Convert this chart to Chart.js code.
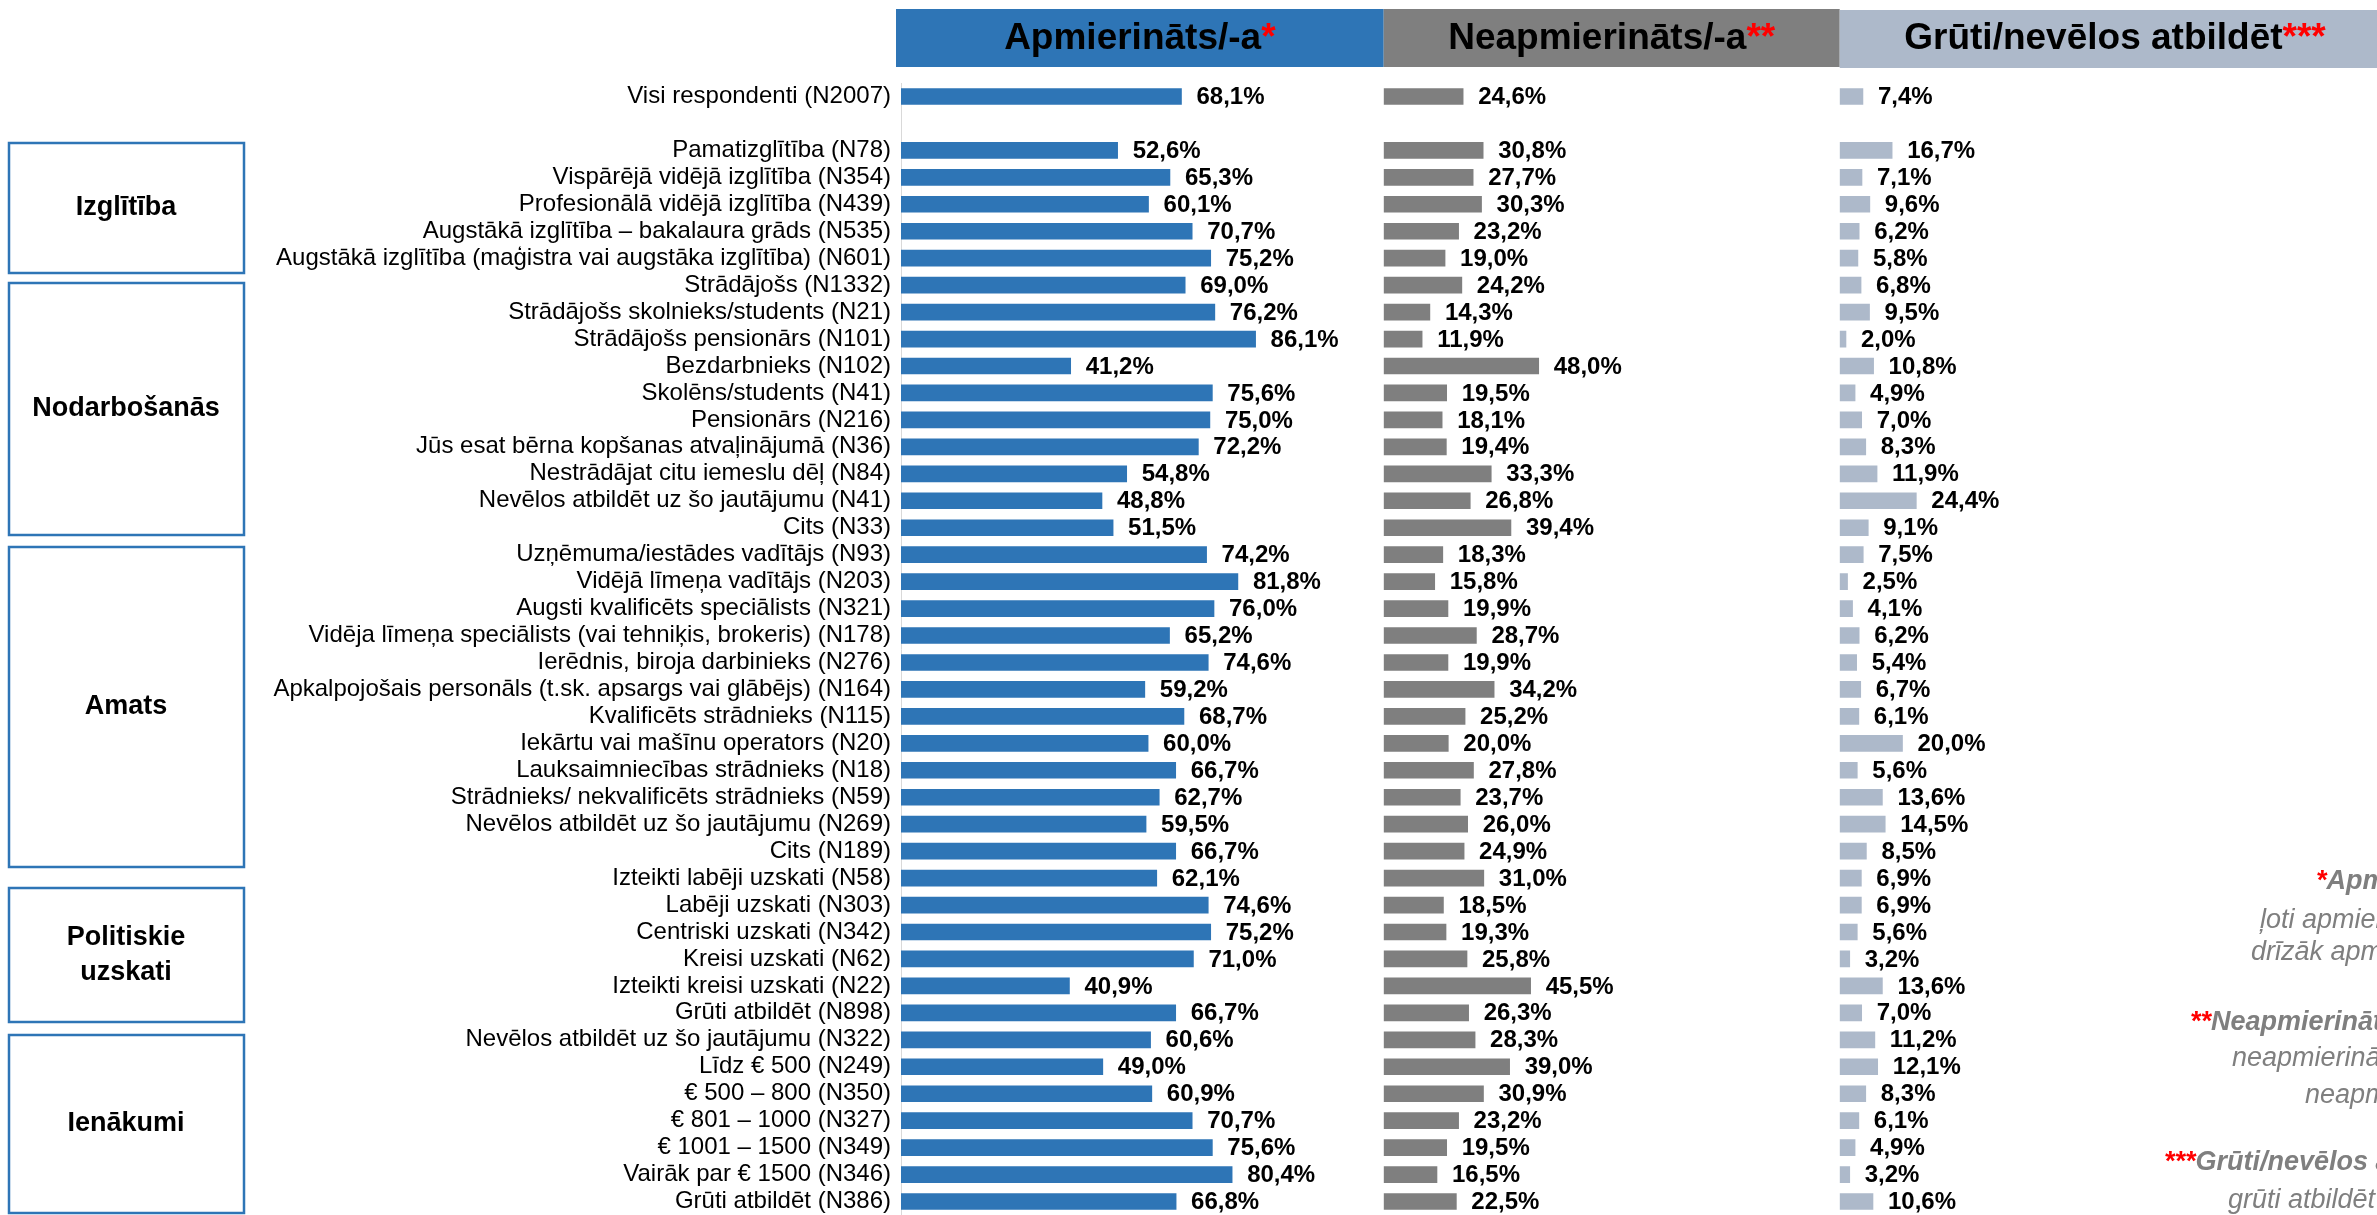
<!DOCTYPE html>
<html>
<head>
<meta charset="utf-8">
<script src="https://cdn.jsdelivr.net/npm/chart.js@4.4.0/dist/chart.umd.min.js"></script>
<style>
    html, body { margin: 0; padding: 0; background: #fff; }
    canvas { display: block; }
</style>
</head>
<body>
<canvas id="satisfactionChart" width="2377" height="1215"></canvas>
<script>
// Row labels (empty string = spacer row after the total)
const categories = [
    'Visi respondenti (N2007)', '',
    'Pamatizglītība (N78)',
    'Vispārējā vidējā izglītība (N354)',
    'Profesionālā vidējā izglītība (N439)',
    'Augstākā izglītība – bakalaura grāds (N535)',
    'Augstākā izglītība (maģistra vai augstāka izglītība) (N601)',
    'Strādājošs (N1332)',
    'Strādājošs skolnieks/students (N21)',
    'Strādājošs pensionārs (N101)',
    'Bezdarbnieks (N102)',
    'Skolēns/students (N41)',
    'Pensionārs (N216)',
    'Jūs esat bērna kopšanas atvaļinājumā (N36)',
    'Nestrādājat citu iemeslu dēļ (N84)',
    'Nevēlos atbildēt uz šo jautājumu (N41)',
    'Cits (N33)',
    'Uzņēmuma/iestādes vadītājs (N93)',
    'Vidējā līmeņa vadītājs (N203)',
    'Augsti kvalificēts speciālists (N321)',
    'Vidēja līmeņa speciālists (vai tehniķis, brokeris) (N178)',
    'Ierēdnis, biroja darbinieks (N276)',
    'Apkalpojošais personāls (t.sk. apsargs vai glābējs) (N164)',
    'Kvalificēts strādnieks (N115)',
    'Iekārtu vai mašīnu operators (N20)',
    'Lauksaimniecības strādnieks (N18)',
    'Strādnieks/ nekvalificēts strādnieks (N59)',
    'Nevēlos atbildēt uz šo jautājumu (N269)',
    'Cits (N189)',
    'Izteikti labēji uzskati (N58)',
    'Labēji uzskati (N303)',
    'Centriski uzskati (N342)',
    'Kreisi uzskati (N62)',
    'Izteikti kreisi uzskati (N22)',
    'Grūti atbildēt (N898)',
    'Nevēlos atbildēt uz šo jautājumu (N322)',
    'Līdz € 500 (N249)',
    '€ 500 – 800 (N350)',
    '€ 801 – 1000 (N327)',
    '€ 1001 – 1500 (N349)',
    'Vairāk par € 1500 (N346)',
    'Grūti atbildēt (N386)'
];

const satisfied = [68.1, null,
    52.6, 65.3, 60.1, 70.7, 75.2,
    69.0, 76.2, 86.1, 41.2, 75.6, 75.0, 72.2, 54.8, 48.8, 51.5,
    74.2, 81.8, 76.0, 65.2, 74.6, 59.2, 68.7, 60.0, 66.7, 62.7, 59.5, 66.7,
    62.1, 74.6, 75.2, 71.0, 40.9, 66.7, 60.6,
    49.0, 60.9, 70.7, 75.6, 80.4, 66.8];

const dissatisfied = [24.6, null,
    30.8, 27.7, 30.3, 23.2, 19.0,
    24.2, 14.3, 11.9, 48.0, 19.5, 18.1, 19.4, 33.3, 26.8, 39.4,
    18.3, 15.8, 19.9, 28.7, 19.9, 34.2, 25.2, 20.0, 27.8, 23.7, 26.0, 24.9,
    31.0, 18.5, 19.3, 25.8, 45.5, 26.3, 28.3,
    39.0, 30.9, 23.2, 19.5, 16.5, 22.5];

const hardToSay = [7.4, null,
    16.7, 7.1, 9.6, 6.2, 5.8,
    6.8, 9.5, 2.0, 10.8, 4.9, 7.0, 8.3, 11.9, 24.4, 9.1,
    7.5, 2.5, 4.1, 6.2, 5.4, 6.7, 6.1, 20.0, 5.6, 13.6, 14.5, 8.5,
    6.9, 6.9, 5.6, 3.2, 13.6, 7.0, 11.2,
    12.1, 8.3, 6.1, 4.9, 3.2, 10.6];

const seriesNames = ['Apmierināts/-a', 'Neapmierināts/-a', 'Grūti/nevēlos atbildēt'];
const seriesStars = ['*', '**', '***'];
const groupNames = [['Izglītība'], ['Nodarbošanās'], ['Amats'], ['Politiskie', 'uzskati'], ['Ienākumi']];
const noteLines = [
    ['ļoti apmierināts/-a +', 'drīzāk apmierināts/-a'],
    ['neapmierināts/-a + drīzāk', 'neapmierināts/-a'],
    ['grūti atbildēt + nevēlos atbildēt']
];

const FONT = "'Liberation Sans', Arial, sans-serif";
const colors = ['#2E75B6', '#7F7F7F', '#ADB9CA'];

// layout of the side boxes and footnotes (pixels)
const groupBoxes = [[143, 273], [283, 535], [547, 867], [888, 1022], [1035, 1213]];
const noteTitlePos = [[2316, 882], [2190, 1023], [2164, 1163]];
const noteLinePos = [[[2260, 920], [2251, 952]], [[2232, 1058], [2305, 1095]], [[2228, 1200]]];

const decorations = {
    id: 'decorations',
    afterDatasetsDraw(chart) {
        const ctx = chart.ctx;
        ctx.save();

        // value labels
        ctx.font = `bold 24px ${FONT}`;
        ctx.fillStyle = '#000';
        ctx.textAlign = 'left';
        ctx.textBaseline = 'middle';
        chart.data.datasets.forEach((ds, i) => {
            chart.getDatasetMeta(i).data.forEach((bar, j) => {
                const v = ds.data[j];
                if (v === null) return;
                ctx.fillText(v.toFixed(1).replace('.', ',') + '%', bar.x + 15, bar.y + 1);
            });
        });

        // column headers
        ['x1', 'x2', 'x3'].forEach((id, i) => {
            const s = chart.scales[id];
            const left = i === 0 ? s.left - 5 : s.left;
            ctx.fillStyle = colors[i];
            ctx.fillRect(left, 9 + (i === 2 ? 1 : 0), s.right - left, 58);
            ctx.font = `bold 37px ${FONT}`;
            const name = seriesNames[i], star = seriesStars[i];
            const w1 = ctx.measureText(name).width, w2 = ctx.measureText(star).width;
            let cx = (left + s.right) / 2;
            if (i === 2) cx = 2115;
            const x0 = cx - (w1 + w2) / 2;
            ctx.fillStyle = '#000';
            ctx.fillText(name, x0, 39);
            ctx.fillStyle = '#FF0000';
            ctx.fillText(star, x0 + w1, 39);
        });

        // group boxes
        ctx.strokeStyle = '#2E75B6';
        ctx.lineWidth = 2.5;
        ctx.font = `bold 27px ${FONT}`;
        ctx.textAlign = 'center';
        groupBoxes.forEach(([top, bottom], i) => {
            ctx.strokeRect(9, top, 235, bottom - top);
            const lines = groupNames[i];
            const mid = (top + bottom) / 2;
            ctx.fillStyle = '#000';
            lines.forEach((t, k) => {
                ctx.fillText(t, 126, mid + (k - (lines.length - 1) / 2) * 35);
            });
        });

        // footnotes (cut by the right edge)
        ctx.textAlign = 'left';
        noteTitlePos.forEach(([x, y], i) => {
            ctx.font = `italic bold 27px ${FONT}`;
            ctx.fillStyle = '#FF0000';
            ctx.fillText(seriesStars[i], x, y);
            const w = ctx.measureText(seriesStars[i]).width;
            ctx.fillStyle = '#7F7F7F';
            ctx.fillText(seriesNames[i] + ':', x + w, y);
            ctx.font = `italic 27px ${FONT}`;
            noteLines[i].forEach((t, k) => {
                const [lx, ly] = noteLinePos[i][k];
                ctx.fillText(t, lx, ly);
            });
        });

        ctx.restore();
    }
};

const hiddenAxis = (weight, max) => ({
    type: 'linear',
    position: 'bottom',
    stack: 'panels',
    stackWeight: weight,
    min: 0,
    max: max,
    afterFit: (scale) => { scale.height = 0; },
    grid: { display: false, drawTicks: false },
    border: { display: false },
    ticks: { display: false }
});

new Chart(document.getElementById('satisfactionChart'), {
    type: 'bar',
    data: {
        labels: categories,
        datasets: [
            { label: seriesNames[0], data: satisfied, xAxisID: 'x1', backgroundColor: colors[0] },
            { label: seriesNames[1], data: dissatisfied, xAxisID: 'x2', backgroundColor: colors[1] },
            { label: seriesNames[2], data: hardToSay, xAxisID: 'x3', backgroundColor: colors[2] }
        ]
    },
    options: {
        indexAxis: 'y',
        responsive: false,
        animation: false,
        layout: { padding: { top: 83, left: 0, right: 0, bottom: 0 } },
        datasets: { bar: { grouped: false, barThickness: 16 } },
        plugins: { legend: { display: false }, tooltip: { enabled: false } },
        scales: {
            y: {
                afterFit: (scale) => {
                    scale.width = 901;
                    scale.paddingTop = 0;
                    scale.paddingBottom = 0;
                },
                grid: { display: false, drawTicks: false },
                border: { display: true, color: '#D9D9D9', width: 1 },
                ticks: { color: '#000', padding: 10, autoSkip: false, font: { size: 24, family: FONT } }
            },
            x1: hiddenAxis(482.7, 117.2),
            x2: hiddenAxis(456, 141.2),
            x3: hiddenAxis(537.3, 171.1)
        }
    },
    plugins: [decorations]
});
</script>
</body>
</html>
